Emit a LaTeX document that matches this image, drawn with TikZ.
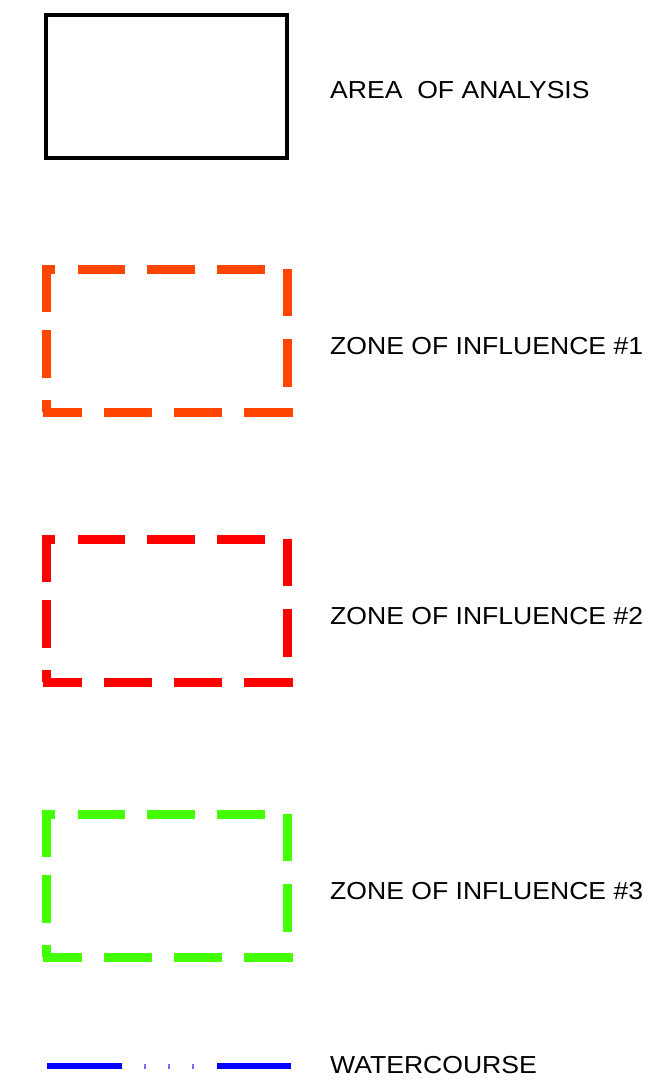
\documentclass[tikz,border=0pt]{standalone}
\usepackage{fontspec}
\setmainfont{Liberation Sans}
\newfontfamily\lblfont[FakeStretch=1.08]{Liberation Sans}
\definecolor{zorange}{RGB}{255,69,0}
\definecolor{zred}{RGB}{255,0,0}
\definecolor{zgreen}{RGB}{68,255,0}
\definecolor{wblue}{RGB}{0,0,255}
\begin{document}
\begin{tikzpicture}[x=1pt,y=-1pt,
  areabox/.style={draw=black,line width=4pt},
  zseg/.style={line width=9pt,line cap=butt},
  wline/.style={draw=wblue,line width=5.5pt,line cap=butt},
  wtick/.style={draw=wblue!55,line width=1.2pt},
  lbl/.style={anchor=base west,font=\lblfont\fontsize{24.6}{29}\selectfont,inner sep=0pt}]
\useasboundingbox (0,0) rectangle (655,1090);
\fill[white] (0,0) rectangle (655,1090);
% area of analysis
\draw[areabox] (46,15) rectangle (287,158);
\node[lbl] (t0) at (330,98.5) {AREA\ \ OF ANALYSIS};
% zones
\foreach \c/\dy/\name/\txt in {zorange/0/t1/ZONE OF INFLUENCE \#1, zred/270/t2/ZONE OF INFLUENCE \#2, zgreen/545/t3/ZONE OF INFLUENCE \#3}{
  \begin{scope}[yshift=-\dy pt, every path/.style={draw=\c,zseg}]
    % top
    \draw (42,269.5) -- (55,269.5);
    \draw (78,269.5) -- (125,269.5);
    \draw (147,269.5) -- (195,269.5);
    \draw (217,269.5) -- (265,269.5);
    % right
    \draw (287.5,269) -- (287.5,316);
    \draw (287.5,339) -- (287.5,387);
    % left
    \draw (46.5,265) -- (46.5,312);
    \draw (46.5,330) -- (46.5,378);
    \draw (46.5,400) -- (46.5,412);
    % bottom
    \draw (43,412.5) -- (82,412.5);
    \draw (104,412.5) -- (152,412.5);
    \draw (174,412.5) -- (222,412.5);
    \draw (244,412.5) -- (293,412.5);
  \end{scope}
  \node[lbl] (\name) at (330,354+\dy) {\txt};
}
% watercourse
\coordinate (w1) at (47,1066);
\coordinate (w2) at (122,1066);
\coordinate (w3) at (217,1066);
\coordinate (w4) at (291,1066);
\draw[wline] (w1) -- (w2);
\draw[wline] (w3) -- (w4);
\foreach \x in {145,169,193}{\draw[wtick] (\x,1063.5) -- (\x,1068.5);}
\node[lbl] (t4) at (330,1073) {WATERCOURSE};
\end{tikzpicture}
\end{document}
